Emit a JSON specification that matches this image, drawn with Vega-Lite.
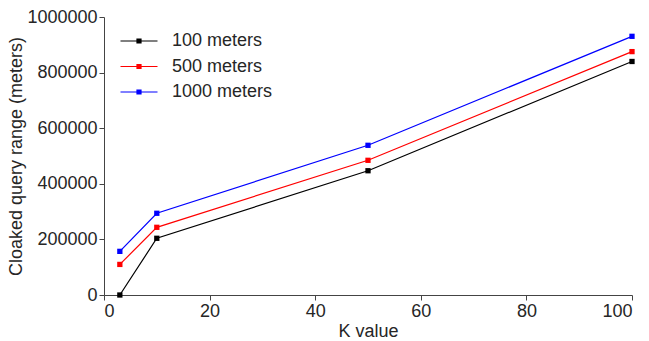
{
  "$schema": "https://vega.github.io/schema/vega-lite/v6.json",
  "width": 528,
  "height": 278,
  "autosize": "none",
  "padding": {"left": 104, "top": 17, "right": 17, "bottom": 46},
  "background": "white",
  "config": {
    "view": {"stroke": null},
    "font": "Liberation Sans",
    "axis": {
      "grid": false,
      "domainColor": "#444",
      "tickColor": "#444",
      "tickSize": 5,
      "labelFontSize": 18,
      "titleFontSize": 18,
      "labelColor": "#262626",
      "titleColor": "#262626",
      "titleFontWeight": "normal",
      "labelFont": "Liberation Sans",
      "titleFont": "Liberation Sans"
    }
  },
  "data": {
    "values": [
      {"k": 3, "range": 0, "series": "100 meters"},
      {"k": 10, "range": 204000, "series": "100 meters"},
      {"k": 50, "range": 447000, "series": "100 meters"},
      {"k": 100, "range": 840000, "series": "100 meters"},
      {"k": 3, "range": 110000, "series": "500 meters"},
      {"k": 10, "range": 243500, "series": "500 meters"},
      {"k": 50, "range": 484500, "series": "500 meters"},
      {"k": 100, "range": 875500, "series": "500 meters"},
      {"k": 3, "range": 157000, "series": "1000 meters"},
      {"k": 10, "range": 294000, "series": "1000 meters"},
      {"k": 50, "range": 538500, "series": "1000 meters"},
      {"k": 100, "range": 930500, "series": "1000 meters"}
    ]
  },
  "mark": {
    "type": "line",
    "strokeWidth": 1.2,
    "point": {"shape": "square", "size": 28, "filled": true}
  },
  "encoding": {
    "x": {
      "field": "k",
      "type": "quantitative",
      "scale": {"domain": [0, 100], "nice": false},
      "axis": {"values": [0, 20, 40, 60, 80, 100], "title": "K value", "labelPadding": 2, "titlePadding": 2}
    },
    "y": {
      "field": "range",
      "type": "quantitative",
      "scale": {"domain": [0, 1000000], "nice": false},
      "axis": {"values": [0, 200000, 400000, 600000, 800000, 1000000], "format": "d", "title": "Cloaked query range (meters)", "labelPadding": 2, "titlePadding": 1}
    },
    "color": {
      "field": "series",
      "type": "nominal",
      "scale": {"domain": ["100 meters", "500 meters", "1000 meters"], "range": ["#000000", "#ff0000", "#0000ff"]},
      "legend": {
        "title": null,
        "orient": "none",
        "legendX": 26,
        "legendY": 15,
        "symbolType": "M-3.7,0L3.7,0M-0.4,-0.4L0.4,-0.4L0.4,0.4L-0.4,0.4Z",
        "symbolSize": 100,
        "symbolStrokeWidth": 1.2,
        "labelFontSize": 18,
        "labelColor": "#262626",
        "labelOffset": 24,
        "rowPadding": 7.5,
        "encode": {"symbols": {"update": {"fill": {"scale": "color", "field": "value"}}}}
      }
    }
  }
}
